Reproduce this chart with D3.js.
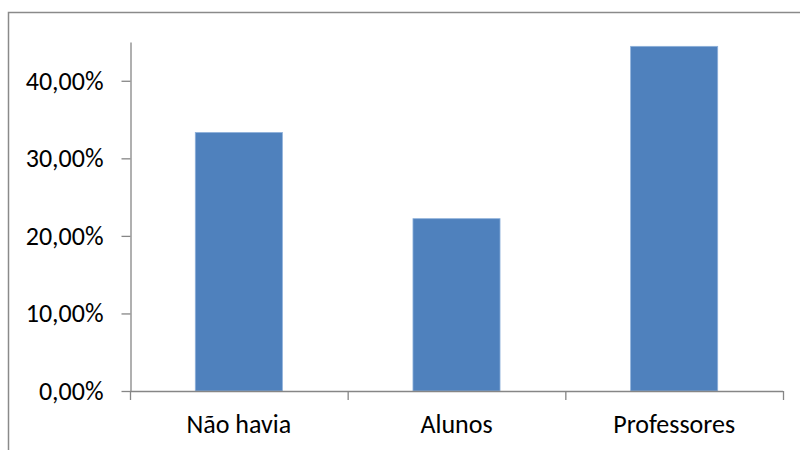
<!DOCTYPE html>
<html>
<head>
<meta charset="utf-8">
<script src="https://cdn.jsdelivr.net/npm/d3@7"></script>
<style>
  html, body { margin: 0; padding: 0; background: #fff; }
  svg { display: block; }
</style>
</head>
<body>
<svg id="chart" width="800" height="450"></svg>
<script>
// Share of responses per group
const categories = ["Não havia", "Alunos", "Professores"];
const values = [0.3333, 0.2222, 0.4444];
const yTicks = [0, 0.1, 0.2, 0.3, 0.4];
const yMax = 0.45;

const svg = d3.select("#chart");
const W = 800, H = 450;
const margin = { left: 130, right: 17, top: 42, bottom: 59 };
const fontFamily = "Carlito, Lato, 'Open Sans', sans-serif";
const fontSize = "26px";
const axisColor = "#868686";

// chart area frame
svg.append("path")
  .attr("d", `M8.5,${H + 2} L8.5,12.5 L${W + 2},12.5`)
  .attr("fill", "none")
  .attr("stroke", "#8a8a8a")
  .attr("stroke-width", 1.5);

const x = d3.scaleBand()
  .domain(categories)
  .range([margin.left, W - margin.right])
  .paddingInner(0.6)
  .paddingOuter(0.3);

const y = d3.scaleLinear()
  .domain([0, yMax])
  .range([H - margin.bottom, margin.top]);

const fmt = v => (v * 100).toFixed(2).replace(".", ",") + "%";

// bars
svg.append("g")
  .selectAll("rect")
  .data(values)
  .join("rect")
  .attr("x", (d, i) => x(categories[i]))
  .attr("y", d => y(d))
  .attr("width", x.bandwidth())
  .attr("height", d => y(0) - y(d))
  .attr("fill", "#4F81BD")
  .attr("stroke", "#8DB0DA")
  .attr("stroke-width", 0.8);

// y axis
const yAxis = svg.append("g")
  .attr("transform", `translate(${margin.left + 0.5},0)`)
  .call(d3.axisLeft(y).tickValues(yTicks).tickFormat(fmt).tickSize(9).tickSizeOuter(0).tickPadding(18));
yAxis.select(".domain").attr("stroke", axisColor).attr("stroke-width", 1.3);
yAxis.selectAll(".tick line").attr("stroke", axisColor).attr("stroke-width", 1.3);
yAxis.selectAll(".tick text")
  .attr("fill", "#000")
  .style("font-family", fontFamily)
  .style("font-size", fontSize);

// x axis with boundary ticks between categories
const bounds = d3.range(categories.length + 1).map(i => margin.left + i * (W - margin.right - margin.left) / categories.length);
const xg = svg.append("g");
xg.append("line")
  .attr("x1", margin.left).attr("x2", W - margin.right)
  .attr("y1", y(0) + 0.5).attr("y2", y(0) + 0.5)
  .attr("stroke", axisColor).attr("stroke-width", 1.3);
xg.selectAll("line.tk")
  .data(bounds)
  .join("line")
  .attr("class", "tk")
  .attr("x1", d => d + 0.5).attr("x2", d => d + 0.5)
  .attr("y1", y(0)).attr("y2", y(0) + 9)
  .attr("stroke", axisColor).attr("stroke-width", 1.3);
xg.selectAll("text")
  .data(categories)
  .join("text")
  .attr("x", d => x(d) + x.bandwidth() / 2)
  .attr("y", y(0) + 42)
  .attr("text-anchor", "middle")
  .attr("fill", "#000")
  .style("font-family", fontFamily)
  .style("font-size", fontSize)
  .text(d => d);
</script>
</body>
</html>
